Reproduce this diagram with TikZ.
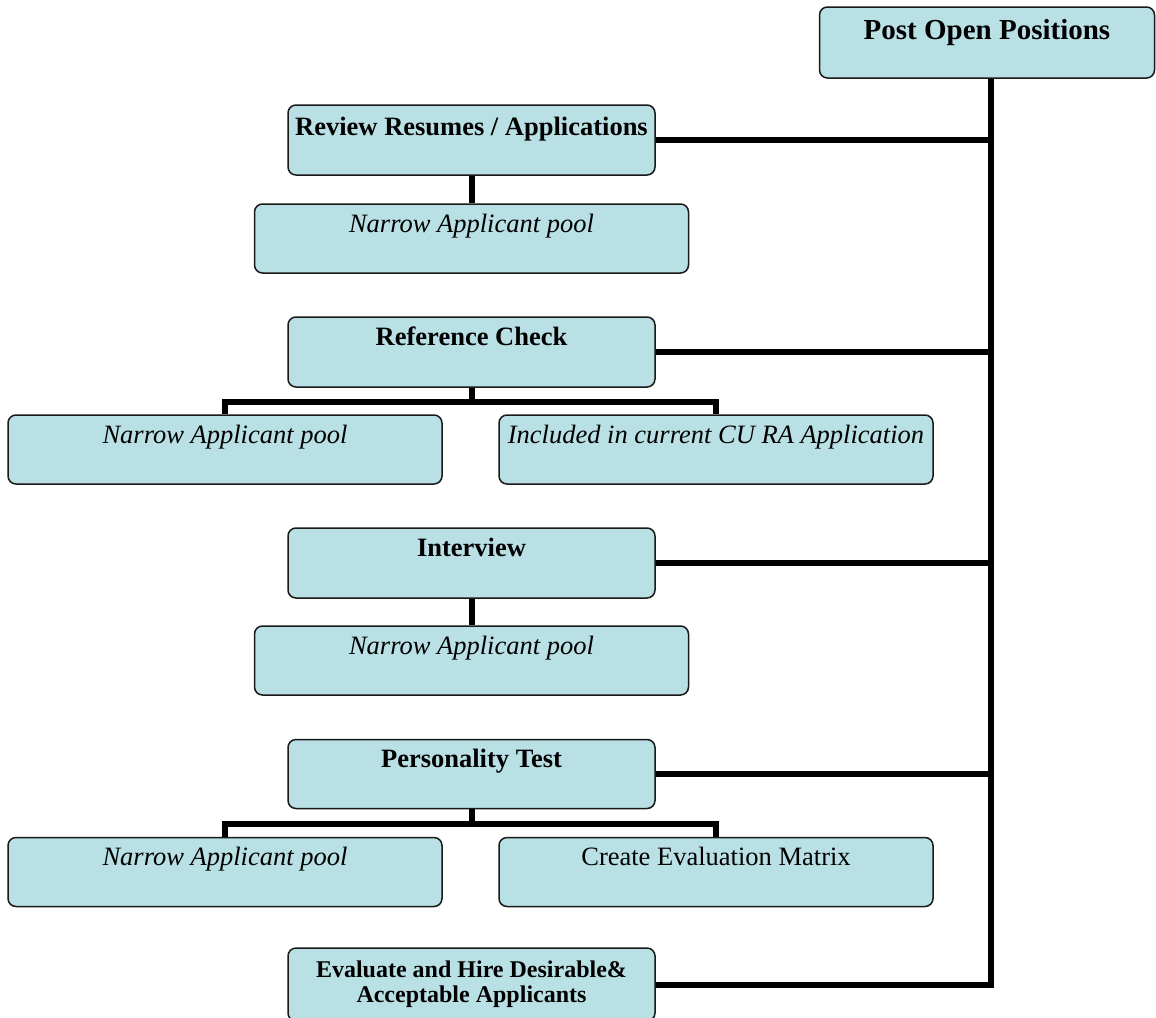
\documentclass[tikz,border=0pt]{standalone}
\usepackage{fontspec}
\setmainfont{Liberation Serif}
\usetikzlibrary{calc}
\definecolor{boxfill}{RGB}{185,224,228}
\begin{document}
\begin{tikzpicture}[x=1pt,y=-1pt,
  box/.style={draw=black!90, line width=1.5pt, fill=boxfill, rounded corners=8pt,
    inner sep=0pt, text height=28pt, text depth=41pt,
    font=\fontsize{26.5}{30}\selectfont},
  wide/.style={minimum width=367pt},
  wider/.style={minimum width=434pt},
  head/.style={box, wide, font=\fontsize{26.5}{30}\selectfont\bfseries},
  sub/.style={box, wider, font=\fontsize{26.5}{30}\selectfont\itshape},
  conn/.style={line width=6pt, line join=miter, draw=black}]
\useasboundingbox (0,0) rectangle (1156,1017);
\clip (0,0) rectangle (1156,1017);

\node[box, minimum width=335pt, text height=32pt, text depth=39pt,
  font=\fontsize{29}{32}\selectfont\bfseries] (post) at (987,42.5) {Post Open Positions};
\node[head, text height=30pt, text depth=40pt] (rev) at (471.5,140) {Review Resumes / Applications};
\node[sub] (nap1) at (471.5,238.5) {Narrow Applicant pool};
\node[head, text depth=42pt] (ref) at (471.5,352) {Reference Check};
\node[sub] (nap2) at (225,449.5) {Narrow Applicant pool};
\node[sub] (incl) at (716,449.5) {Included in current CU RA Application};
\node[head, text depth=42pt] (int) at (471.5,563) {Interview};
\node[sub] (nap3) at (471.5,660.5) {Narrow Applicant pool};
\node[head] (pers) at (471.5,774) {Personality Test};
\node[sub] (nap4) at (225,872) {Narrow Applicant pool};
\node[box, wider] (cem) at (716,872) {Create Evaluation Matrix};
\node[box, wide, text height={}, text depth={}, minimum height=73pt, align=center,
  font=\fontsize{24}{25}\selectfont\bfseries] (eval) at (471.5,984.5)
  {Evaluate and Hire Desirable\&\\Acceptable Applicants};

\coordinate (trunk) at ($(post.south)+(3.5,0)$);
\draw[conn] (trunk) |- (eval.east);
\foreach \n in {rev,ref,int,pers}
  \draw[conn] (\n.east) -- (\n.east -| trunk);
\draw[conn] (rev.south) -- (nap1.north);
\draw[conn] (int.south) -- (nap3.north);
\coordinate (t1) at (471.5,402);
\coordinate (t2) at (471.5,824);
\draw[conn] (ref.south) -- (t1);
\draw[conn] (nap2.north) |- (t1) -| (incl.north);
\draw[conn] (pers.south) -- (t2);
\draw[conn] (nap4.north) |- (t2) -| (cem.north);
\end{tikzpicture}
\end{document}
